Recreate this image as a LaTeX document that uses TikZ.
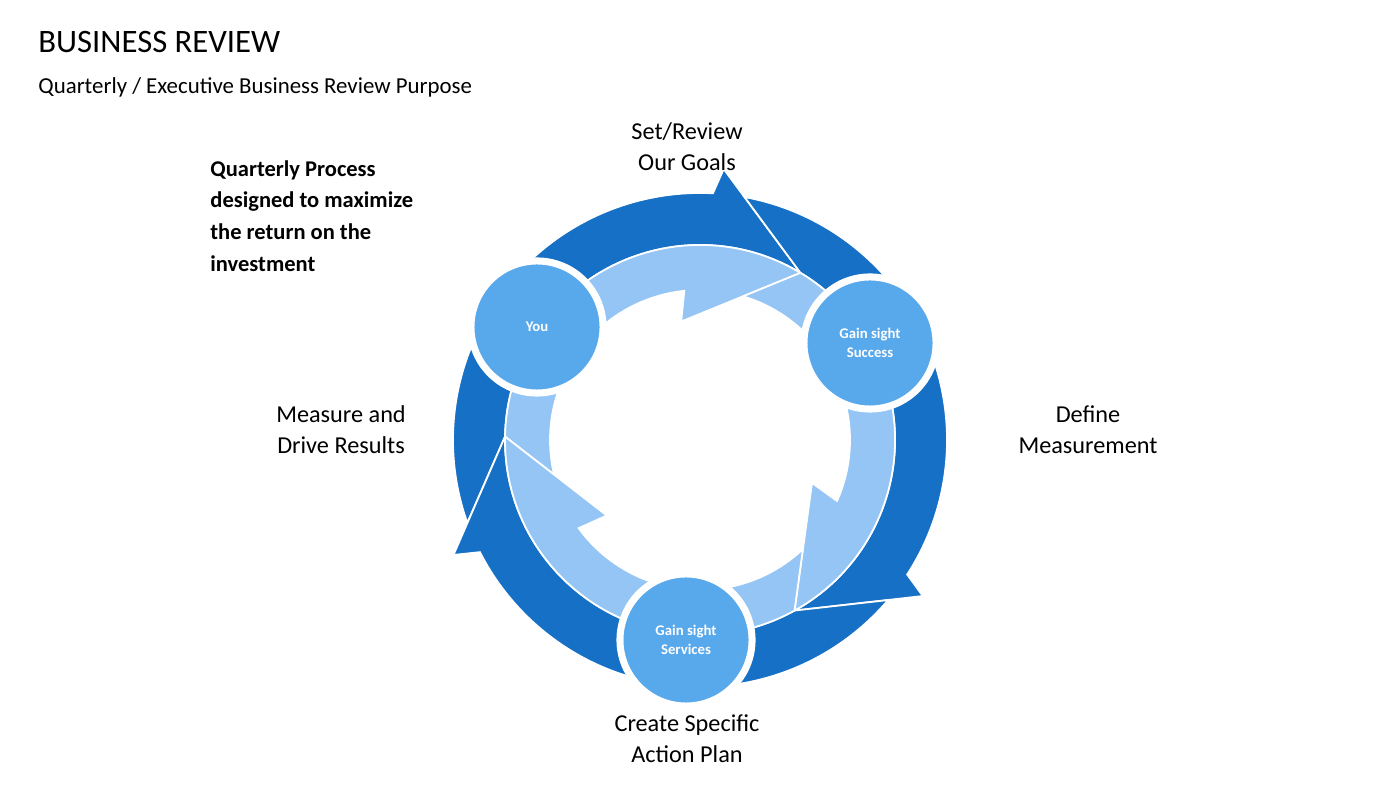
\documentclass[tikz,border=0pt]{standalone}
\usepackage{fontspec}
\setmainfont{Carlito}
\usepackage{tikz}
\usetikzlibrary{positioning}

\begin{document}
\begin{tikzpicture}[x=0.01cm,y=0.01cm]
\useasboundingbox (0,0) rectangle (1400,788);
\definecolor{ringDark}{RGB}{22,112,198}
\definecolor{ringLight}{RGB}{148,197,245}
\definecolor{stepFill}{RGB}{88,168,236}
\tikzset{stage/.style={circle,fill=stepFill,draw=white,line width=2pt,minimum size=1.32cm,inner sep=0pt,
    text=white,font=\fontsize{4.2pt}{5.4pt}\selectfont\bfseries,align=center},
  phase/.style={font=\fontsize{6.9pt}{8.9pt}\selectfont,align=center}}
\begin{scope}[shift={(700,348)}]
  \foreach \t in {59,-61,179} {
    \fill[ringDark,draw=white,line width=0.5pt] ({\t+120}:195) -- ({\t+140.6}:247)
      arc[start angle={\t+140.6},end angle={\t+28},radius=247] -- ({\t+26}:272) -- (\t:195)
      arc[start angle=\t,end angle={\t+120},radius=195] -- cycle;
    \fill[ringLight,draw=white,line width=0.5pt] ({\t+120}:195) -- ({\t+134.3}:150)
      arc[start angle={\t+134.3},end angle={\t+37},radius=150] -- ({\t+40}:120) -- (\t:195)
      arc[start angle=\t,end angle={\t+120},radius=195] -- cycle;
  }
\end{scope}
\node[stage] (you) at (537,461) {You};
\node[stage] (success) at (870,445) {Gain sight\\Success};
\node[stage] (services) at (686,148) {Gain sight\\Services};
\node[anchor=west,font=\fontsize{9.3pt}{11pt}\selectfont] (title) at (26,746) {BUSINESS REVIEW};
\node[anchor=west,font=\fontsize{6.5pt}{8pt}\selectfont] (subtitle) at (26,701) {Quarterly / Executive Business Review Purpose};
\node[anchor=north west,align=left,font=\fontsize{6.4pt}{9pt}\selectfont\bfseries] (purpose) at (198,640)
  {Quarterly Process\\designed to maximize\\the return on the\\investment};
\node[phase] (goals) at (687,641) {Set/Review\\Our Goals};
\node[phase] (measure) at (1088,358) {Define\\Measurement};
\node[phase] (plan) at (687,49) {Create Specific\\Action Plan};
\node[phase] (results) at (341,358) {Measure and\\Drive Results};
\end{tikzpicture}
\end{document}
